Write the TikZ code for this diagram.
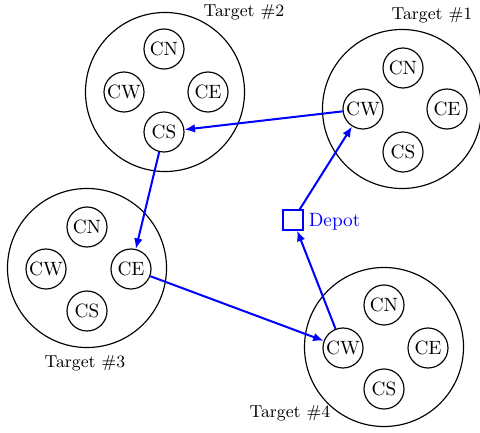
\documentclass[tikz,border=0pt]{standalone}
\usetikzlibrary{arrows.meta}
\begin{document}
\begin{tikzpicture}[x=0.52pt,y=-0.52pt,
  target/.style={draw,circle,line width=0.6pt,minimum size=82.7pt,inner sep=0pt},
  corner/.style={draw,circle,line width=0.6pt,minimum size=20.8pt,inner sep=0pt},
  tlabel/.style={font=\small},
  route/.style={draw=blue,line width=1.05pt,-{Latex[length=5.5pt,width=4.5pt]}},
  depotbox/.style={draw=blue,line width=0.6pt,minimum size=10.4pt,inner sep=0pt}]
\useasboundingbox (0,0) rectangle (480,433);
% Target 2
\node[target] (t2) at (165,92) {};
\node[corner] (t2n) at (164,49) {CN};
\node[corner] (t2w) at (124,92) {CW};
\node[corner] (t2e) at (208,92) {CE};
\node[corner] (t2s) at (164,132) {CS};
\node[tlabel] (l2) at (244,12) {Target \#2};
% Target 1
\node[target] (t1) at (402,109) {};
\node[corner] (t1n) at (403,68) {CN};
\node[corner] (t1w) at (363,109) {CW};
\node[corner] (t1e) at (447,109) {CE};
\node[corner] (t1s) at (403,152) {CS};
\node[tlabel] (l1) at (432,15) {Target \#1};
% Target 3
\node[target] (t3) at (87,268) {};
\node[corner] (t3n) at (87,227) {CN};
\node[corner] (t3w) at (46,269) {CW};
\node[corner] (t3e) at (131,269) {CE};
\node[corner] (t3s) at (87,311) {CS};
\node[tlabel] (l3) at (85,363) {Target \#3};
% Target 4
\node[target] (t4) at (384,347) {};
\node[corner] (t4n) at (384,305) {CN};
\node[corner] (t4w) at (343,348) {CW};
\node[corner] (t4e) at (428,348) {CE};
\node[corner] (t4s) at (384,389) {CS};
\node[tlabel] (l4) at (290,413) {Target \#4};
% Depot
\node[depotbox] (depot) at (293,220) {};
\node[anchor=west,text=blue,inner sep=2.5pt] (dl) at ([yshift=-0.8pt]depot.east) {Depot};
% Route
\draw[route] (t1w) -- (t2s);
\draw[route] (t2s) -- (t3e);
\draw[route] (t3e) -- (t4w);
\draw[route] (t4w) -- (depot);
\draw[route] (depot) -- (t1w);
\end{tikzpicture}
\end{document}
